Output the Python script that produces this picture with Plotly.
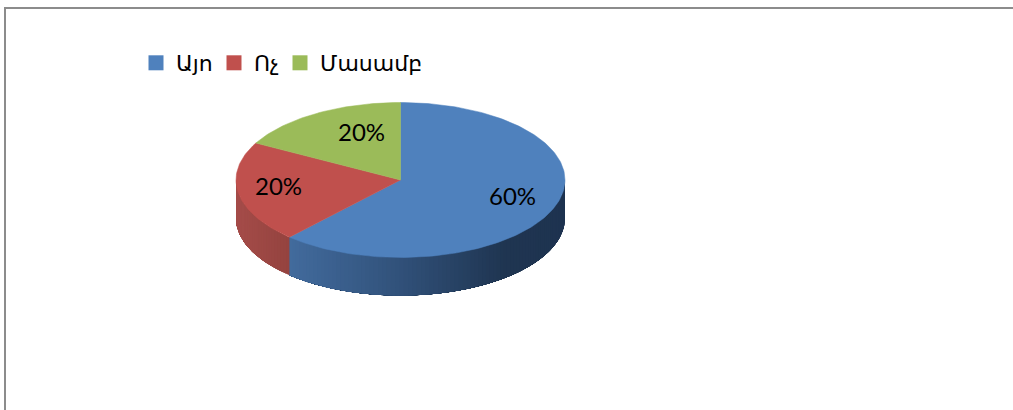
import math
import plotly.graph_objects as go

categories = ["Այո", "Ոչ", "Մասամբ"]
shares = [61.8, 21.1, 17.1]          # slice sizes as drawn
shown_labels = ["60%", "20%", "20%"] # labels as printed
colors = ["#4F81BD", "#C0504D", "#9BBB59"]

CX, CY, RX, RY, DEPTH = 400.5, 180, 164.5, 77.5, 38
FONT = "Lato, Noto Sans, DejaVu Sans, sans-serif"
SIDE = {0: ((0.0, "#426B9D"), (0.4, "#31517A"), (0.78, "#1F3551"), (1.0, "#1E3350")),
        1: ((0.0, "#A54C49"), (1.0, "#94433F"))}
LABEL_R = [0.72, 0.74, 0.70]
LABEL_SHIFT = [(1.5, -5), (-2, -4), (20, -2)]
LEGEND_LEFT = [136, 214, 280]   # left edge of each legend entry, px


def pt(deg, drop=0.0):
    a = math.radians(deg)
    return CX + RX * math.sin(a), CY - RY * math.cos(a) + drop


def hex2rgb(h):
    return tuple(int(h[i:i + 2], 16) for i in (1, 3, 5))


def ramp(stops, t):
    for (t0, c0), (t1, c1) in zip(stops, stops[1:]):
        if t <= t1:
            f = (t - t0) / (t1 - t0)
            r = [round(a + (b - a) * f) for a, b in zip(hex2rgb(c0), hex2rgb(c1))]
            return "rgb({},{},{})".format(*r)
    return stops[-1][1]


total = sum(shares)
edges = [0.0]
for s in shares:
    edges.append(edges[-1] + 360.0 * s / total)

fig = go.Figure()

# side wall: only the front half (90..270 deg, clockwise from 12 o'clock).
# Each band runs to the far end of the wall, so later bands paint over earlier
# ones and no seams can open between them.
for i, stops in SIDE.items():
    lo, hi = max(edges[i], 90.0), min(edges[i + 1], 270.0)
    x_lo, x_hi = min(pt(lo)[0], pt(hi)[0]), max(pt(lo)[0], pt(hi)[0])
    n = max(2, int((hi - lo) / 1.5))
    for k in range(n):
        a0 = lo + (hi - lo) * k / n
        arc = [pt(a0 + (hi - a0) * j / 40) for j in range(41)]
        low = [pt(a0 + (hi - a0) * j / 40, DEPTH) for j in range(40, -1, -1)]
        p = arc + low + arc[:1]
        x_here = pt(a0 + (hi - lo) / n / 2)[0]
        c = ramp(stops, (x_here - x_lo) / (x_hi - x_lo))
        fig.add_trace(go.Scatter(
            x=[q[0] for q in p], y=[q[1] for q in p],
            mode="lines", fill="toself", fillcolor=c, line=dict(color=c, width=0),
            hoverinfo="skip", showlegend=False))

# top face
for i, name in enumerate(categories):
    n = max(4, int(shares[i] * 3))
    arc = [pt(edges[i] + (edges[i + 1] - edges[i]) * k / n) for k in range(n + 1)]
    xs = [CX] + [q[0] for q in arc] + [CX]
    ys = [CY] + [q[1] for q in arc] + [CY]
    fig.add_trace(go.Scatter(
        x=xs, y=ys, mode="lines", fill="toself", fillcolor=colors[i],
        line=dict(color=colors[i], width=0.5), name=name, showlegend=False,
        hoverinfo="name"))

# legend entries: one small legend each, so the uneven spacing can be kept
legend_layout = {}
for i, name in enumerate(categories):
    key = "legend" if i == 0 else f"legend{i + 1}"
    fig.add_trace(go.Scatter(
        x=[None], y=[None], mode="markers", name=name, legend=key,
        marker=dict(symbol="square", size=15, color=colors[i])))
    legend_layout[key] = dict(
        x=LEGEND_LEFT[i] / 1013, y=1 - 42 / 410, xanchor="left", yanchor="top",
        font=dict(family=FONT, size=22, color="#000000"),
        itemsizing="trace", itemwidth=30, bgcolor="rgba(0,0,0,0)")

# value labels
for i, text in enumerate(shown_labels):
    mid = (edges[i] + edges[i + 1]) / 2
    a = math.radians(mid)
    fig.add_annotation(
        x=CX + LABEL_R[i] * RX * math.sin(a), y=CY - LABEL_R[i] * RY * math.cos(a),
        text=text, showarrow=False, xshift=LABEL_SHIFT[i][0], yshift=-LABEL_SHIFT[i][1],
        font=dict(family=FONT, size=24, color="#000000"))

fig.update_layout(
    width=1013, height=410, margin=dict(l=0, r=0, t=0, b=0),
    paper_bgcolor="white", plot_bgcolor="white",
    xaxis=dict(range=[0, 1013], visible=False, fixedrange=True),
    yaxis=dict(range=[410, 0], visible=False, fixedrange=True),
    shapes=[dict(type="line", xref="x", yref="y", x0=5, x1=5, y0=8, y1=410,
                 line=dict(color="#8C8C8C", width=2)),
            dict(type="line", xref="x", yref="y", x0=4, x1=1013, y0=8, y1=8,
                 line=dict(color="#8C8C8C", width=2))],
    **legend_layout,
)

fig.write_html("out.html", config={"displayModeBar": False},
               post_script="document.body.style.margin='0';document.body.style.overflow='hidden';")
